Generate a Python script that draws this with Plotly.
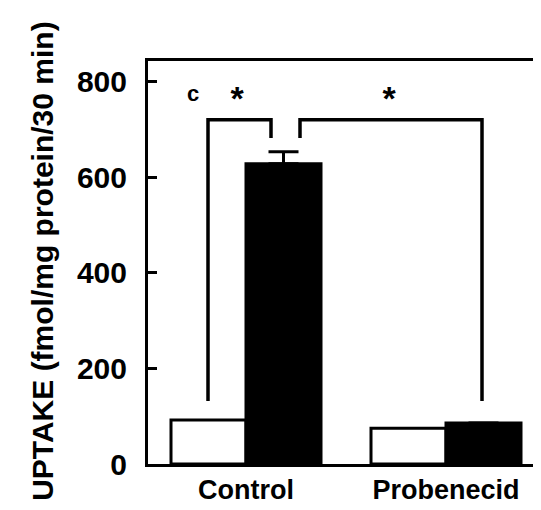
import plotly.graph_objects as go

categories = ["Control", "Probenecid"]
x_pos = [0, 1]
open_values = [92, 75]
filled_values = [628, 86]
filled_err = [25, 0]
y_ticks = [0, 200, 400, 600, 800]

# significance brackets (x in group units, y in data units)
bracket1_x = [-0.19, -0.19, 0.125, 0.125]
bracket1_y = [132, 720, 720, 682]
bracket2_x = [0.27, 0.27, 1.18, 1.18]
bracket2_y = [682, 720, 720, 132]
star_x = [-0.045, 0.715]
star_y = [758, 758]

FONT = "Liberation Sans, Arial, sans-serif"

fig = go.Figure()
fig.add_trace(go.Bar(x=x_pos, y=open_values, marker=dict(color="white", line=dict(color="black", width=3)),
                     showlegend=False))
fig.add_trace(go.Bar(x=x_pos, y=filled_values, marker=dict(color="black", line=dict(color="black", width=3)),
                     error_y=dict(type="data", array=filled_err, arrayminus=[0, 0], symmetric=False,
                                  color="black", thickness=3, width=15),
                     showlegend=False))
for bx, by in [(bracket1_x, bracket1_y), (bracket2_x, bracket2_y)]:
    fig.add_trace(go.Scatter(x=bx, y=by, mode="lines", line=dict(color="black", width=3.5),
                             hoverinfo="skip", showlegend=False))
fig.add_trace(go.Scatter(x=star_x, y=star_y, mode="text", text=["<b>*</b>", "<b>*</b>"],
                         textfont=dict(family=FONT, size=34, color="black"), showlegend=False))

fig.add_annotation(x=-0.265, y=776, xref="x", yref="y", text="<b>c</b>", showarrow=False,
                   xanchor="center", yanchor="middle",
                   font=dict(family=FONT, size=22, color="black"))
fig.add_annotation(x=-0.264, y=0.504, xref="paper", yref="paper", text="<b>UPTAKE (fmol/mg protein/30 min)</b>",
                   textangle=-90, showarrow=False, xanchor="center", yanchor="middle",
                   font=dict(family=FONT, size=30, color="black"))

fig.update_layout(
    width=541, height=510,
    margin=dict(l=140, r=3, t=53, b=54),
    paper_bgcolor="white", plot_bgcolor="white",
    barmode="group", bargap=0.25, bargroupgap=0,
    font=dict(family=FONT, color="black"),
)
fig.update_xaxes(range=[-0.49, 1.5], tickvals=x_pos, ticktext=["<b>%s</b>" % c for c in categories],
                 tickfont=dict(family=FONT, size=27), showline=True, linecolor="black", linewidth=3,
                 mirror=True, ticks="", showgrid=False, zeroline=False, automargin=False)
fig.update_yaxes(range=[0, 843], tickvals=y_ticks, ticktext=["<b>%d</b>" % v for v in y_ticks],
                 tickfont=dict(family=FONT, size=30), showline=True, linecolor="black", linewidth=3,
                 mirror=True, ticks="inside", ticklen=9, tickwidth=3, tickcolor="black",
                 showgrid=False, zeroline=False, ticklabelstandoff=12, automargin=False)

fig.write_html("out.html")
